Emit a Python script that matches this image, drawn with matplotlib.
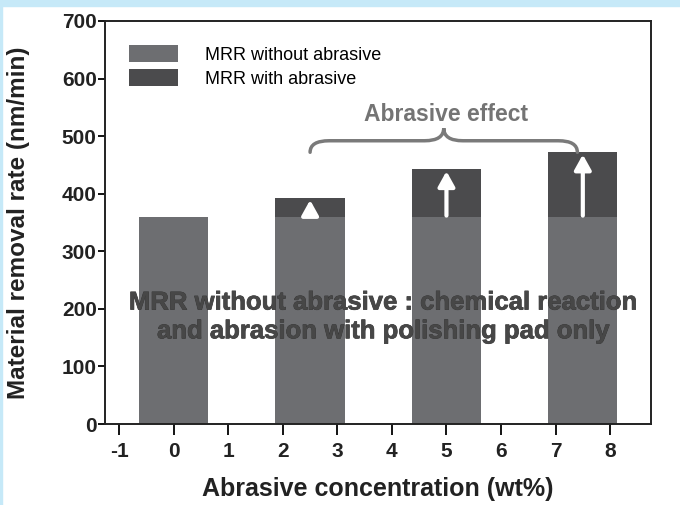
import numpy as np
import matplotlib
matplotlib.use('Agg')
import matplotlib.pyplot as plt
from matplotlib.path import Path
from matplotlib.patches import PathPatch, Rectangle
import matplotlib.patheffects as pe

plt.rcParams['font.family'] = ['Liberation Sans', 'DejaVu Sans']
plt.rcParams['axes.unicode_minus'] = False

# data
conc = [0, 2.5, 5, 7.5]
mrr_without = [360, 360, 360, 360]
mrr_with = [360, 393, 443, 472]
xticks = list(range(-1, 9))

light = '#6d6e71'
dark = '#4b4b4d'
gray_txt = '#747474'
ink = '#222222'

fig = plt.figure(figsize=(6.8, 5.05), dpi=100)
fig.patch.set_facecolor('white')
# light blue frame of the source image
fig.patches.append(Rectangle((0, 1 - 6 / 505), 1, 6 / 505, transform=fig.transFigure,
                             color='#c6e9f8', zorder=0))
fig.patches.append(Rectangle((0, 0), 2 / 680, 1, transform=fig.transFigure,
                             color='#c6e9f8', zorder=0))

ax = fig.add_axes([105 / 680, 81 / 505, 546 / 680, 403 / 505])

w = 1.27
top = np.array(mrr_with) - np.array(mrr_without)
ax.bar(conc, mrr_without, width=w, color=light, label='MRR without abrasive', zorder=2)
ax.bar(conc[1:], top[1:], bottom=mrr_without[1:], width=w, color=dark,
       label='MRR with abrasive', zorder=2)

# white arrows inside the abrasive part
for x, b, t in zip(conc[1:], mrr_without[1:], mrr_with[1:]):
    ax.annotate('', xy=(x, t - 4), xytext=(x, b + 2),
                arrowprops=dict(arrowstyle='-|>,head_length=0.9,head_width=0.5',
                                color='white', lw=3, shrinkA=0, shrinkB=0),
                zorder=4)

# curly brace "Abrasive effect"
x0, x1 = conc[1], conc[3] - 0.1
xm = (x0 + x1) / 2
yb, yc, yt = 472, 492, 514
verts = [(x0, yb), (x0, yc), (x0 + 0.35, yc),
         (xm - 0.35, yc),
         (xm, yc), (xm, yt),
         (xm, yc), (xm + 0.35, yc),
         (x1 - 0.35, yc),
         (x1, yc), (x1, yb)]
codes = [Path.MOVETO, Path.CURVE3, Path.CURVE3,
         Path.LINETO,
         Path.CURVE3, Path.CURVE3,
         Path.CURVE3, Path.CURVE3,
         Path.LINETO,
         Path.CURVE3, Path.CURVE3]
ax.add_patch(PathPatch(Path(verts, codes), fill=False, ec='#7a7a7a', lw=2.5,
                       capstyle='round', zorder=3))
ax.text(xm + 0.05, 538, 'Abrasive effect', ha='center', va='center', fontsize=16.5,
        fontweight='bold', color=gray_txt, zorder=3)

ax.text(3.85, 186, 'MRR without abrasive : chemical reaction\nand abrasion with polishing pad only',
        ha='center', va='center', fontsize=18.5, fontweight='bold', color='#474747',
        linespacing=1.25, zorder=5,
        path_effects=[pe.withStroke(linewidth=0.5, foreground='#333333')])

ax.set_xlim(-1.26, 8.75)
ax.set_ylim(0, 700)
ax.set_xticks(xticks)
ax.set_yticks(range(0, 701, 100))
ax.tick_params(axis='x', length=8, width=1.3, pad=5, labelsize=15)
ax.tick_params(axis='y', length=5, width=1.3, pad=1, labelsize=15)
for lab in ax.get_xticklabels() + ax.get_yticklabels():
    lab.set_fontweight('bold')
    lab.set_color(ink)
    lab.set_family(['Liberation Sans Narrow', 'Liberation Sans'])
for s in ax.spines.values():
    s.set_linewidth(1.4)
    s.set_color(ink)

ax.set_xlabel('Abrasive concentration (wt%)', fontsize=18, fontweight='bold', color=ink)
ax.set_ylabel('Material removal rate (nm/min)', fontsize=17.5, fontweight='bold', color=ink)
ax.xaxis.set_label_coords(0.5, -0.132)
ax.yaxis.set_label_coords(-0.138, 0.5)

ax.legend(loc='upper left', frameon=False, fontsize=13, handlelength=2.7,
          handleheight=1.05, handletextpad=1.5, labelspacing=0.3,
          bbox_to_anchor=(0.014, 0.98))

fig.savefig('out.png', dpi=100)
